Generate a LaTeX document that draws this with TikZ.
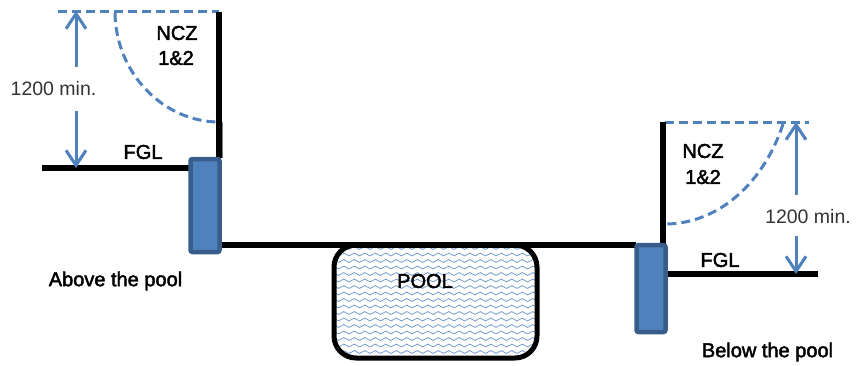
\documentclass[tikz,border=0pt]{standalone}
\usepackage{fontspec}
\setmainfont{Liberation Sans}
\newfontfamily\labelfont[FakeBold=2.2]{Liberation Sans}
\usetikzlibrary{arrows.meta,decorations.pathmorphing}
\definecolor{dimblue}{HTML}{4F81BD}
\definecolor{colborder}{HTML}{385D8A}
\tikzset{
  wall/.style={line width=6pt},
  dashline/.style={dimblue, line width=3pt, dash pattern=on 9pt off 5pt},
  dimarrow/.style={dimblue, line width=3pt, -{Straight Barb[length=15pt,width=20pt,line width=3pt]}},
  column/.style={fill=dimblue, draw=colborder, line width=4.5pt, rounded corners=2pt},
  wave/.style={dimblue!85, line width=0.7pt, decorate, decoration={snake, segment length=10.5pt, amplitude=1.4pt}},
  heavytext/.style={inner sep=0pt, font=\labelfont\fontsize{20}{20}\selectfont},
  dimtext/.style={inner sep=0pt, text=black!80, font=\fontsize{19.5}{19.5}\selectfont}
}
\begin{document}
\begin{tikzpicture}[x=1pt, y=-1pt]
  \useasboundingbox (0,0) rectangle (864,365);

  % above the pool
  \coordinate (topL) at (76,11);
  \coordinate (fglL) at (76,168);
  \draw[dashline] (58,11) -- (219,11);
  \draw[dashline] (115,13) .. controls (116,75) and (165,122) .. (219,122);
  \draw[wall] (219,12) -- (219,158);
  \draw[gray, line width=1.5pt] (222.5,122) -- (222.5,158);
  \draw[wall] (42,168) -- (190,168);
  \node[dimtext] (lenL) at (53.5,89) {1200 min.};
  \draw[dimarrow] (76,67) -- (topL);
  \draw[dimarrow] (76,111) -- (fglL);
  \node[heavytext] (nczL) at (177,33) {NCZ};
  \node[heavytext] (nczLb) at (176,58) {1\&2};
  \node[heavytext] (fglLtxt) at (143,152) {FGL};
  \node[heavytext] (aboveL) at (115.5,281) {Above the pool};

  % below the pool
  \coordinate (topR) at (796,122);
  \coordinate (fglR) at (796,274);
  \draw[dashline] (665,122) -- (809,122);
  \draw[dashline] (783,124) .. controls (765,180) and (720,225) .. (663,224);
  \draw[wall] (663,122) -- (663,244);
  \draw[wall] (666,274) -- (818,274);
  \node[dimtext] (lenR) at (808,217) {1200 min.};
  \draw[dimarrow] (796,195) -- (topR);
  \draw[dimarrow] (796,236) -- (fglR);
  \node[heavytext] (nczR) at (703,151) {NCZ};
  \node[heavytext] (nczRb) at (703,177) {1\&2};
  \node[heavytext] (fglRtxt) at (720,260) {FGL};
  \node[heavytext] (belowR) at (767.5,352) {Below the pool};

  % pool
  \begin{scope}
    \clip[rounded corners=22pt] (334,245) rectangle (537,358);
    \foreach \j in {248,254.5,...,358}
      \draw[wave] (330,\j) -- (542,\j);
  \end{scope}
  \draw[line width=5pt, rounded corners=22pt] (334,245) rectangle (537,358);
  \draw[wall] (221,244.5) -- (636,244.5);
  \node[heavytext] (pool) at (425,281) {POOL};

  % columns
  \node[column, minimum width=29pt, minimum height=93pt, inner sep=0pt] (colL) at (205,205.5) {};
  \node[column, minimum width=29pt, minimum height=87pt, inner sep=0pt] (colR) at (651,288.5) {};
\end{tikzpicture}
\end{document}
